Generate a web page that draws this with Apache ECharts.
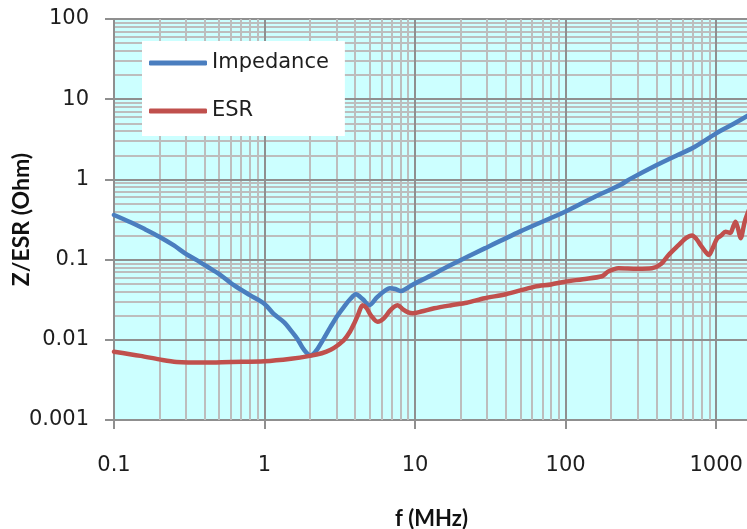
<!DOCTYPE html>
<html>
<head>
<meta charset="utf-8">
<script src="https://cdn.jsdelivr.net/npm/echarts@6/dist/echarts.min.js"></script>
<style>html,body{margin:0;padding:0;background:#fff;}#c{width:747px;height:529px;}</style>
</head>
<body>
<div id="c"></div>
<script>
// Impedance (blue)
const impFreq = [0.1, 0.13, 0.16, 0.2, 0.25, 0.3, 0.35, 0.415, 0.5, 0.625, 0.8, 1.0, 1.15, 1.35, 1.5, 1.65, 1.78, 1.9, 2.0, 2.1, 2.24, 2.5, 2.75, 3.05, 3.38, 3.7, 4.04, 4.5, 4.96, 5.6, 6.2, 6.8, 7.4, 8.07, 9.0, 9.9, 12, 17.4, 29, 50, 99, 160, 230, 265, 400, 550, 692, 1000, 1300, 1652];
const impVal  = [0.36, 0.29, 0.24, 0.193, 0.15, 0.118, 0.1, 0.082, 0.066, 0.048, 0.036, 0.028, 0.021, 0.0165, 0.013, 0.0103, 0.0081, 0.0069, 0.0064, 0.0066, 0.0076, 0.0107, 0.0146, 0.02, 0.026, 0.032, 0.037, 0.032, 0.027, 0.034, 0.04, 0.044, 0.043, 0.0405, 0.045, 0.05, 0.06, 0.086, 0.138, 0.225, 0.395, 0.62, 0.85, 1.0, 1.5, 2.0, 2.44, 3.75, 4.9, 6.35];
// ESR (red)
const esrFreq = [0.1, 0.15, 0.2, 0.26, 0.4, 0.6, 1.0, 1.5, 2.0, 2.4, 2.75, 3.05, 3.38, 3.7, 3.94, 4.2, 4.48, 4.75, 5.1, 5.64, 6.2, 6.8, 7.3, 7.66, 8.3, 9.0, 9.64, 11, 13.4, 17.4, 22, 29, 40, 62.5, 80, 99, 130, 174, 192, 224, 300, 374, 430, 483, 560, 630, 692, 740, 787, 850, 894, 950, 1016, 1080, 1154, 1242, 1290, 1345, 1400, 1453, 1550, 1652];
const esrVal  = [0.0071, 0.0063, 0.0057, 0.0053, 0.0052, 0.0053, 0.0054, 0.0058, 0.0063, 0.0068, 0.0075, 0.0085, 0.010, 0.0127, 0.016, 0.021, 0.027, 0.025, 0.02, 0.0168, 0.0185, 0.023, 0.026, 0.027, 0.024, 0.022, 0.0214, 0.0225, 0.0247, 0.027, 0.029, 0.033, 0.037, 0.046, 0.049, 0.053, 0.057, 0.062, 0.071, 0.078, 0.077, 0.078, 0.088, 0.114, 0.15, 0.185, 0.2, 0.18, 0.152, 0.125, 0.114, 0.14, 0.184, 0.2, 0.223, 0.215, 0.25, 0.297, 0.24, 0.185, 0.3, 0.416];
// Axis ranges and tick labels
const xMin = 0.1, xMax = 1652;
const yMin = 0.001, yMax = 100;
const xTickLabels = ['0.1', '1', '10', '100', '1000'];
const yTickLabels = ['0.001', '0.01', '0.1', '1', '10', '100'];
const xDecades = [0.1, 1, 10, 100, 1000];
const yDecades = [0.001, 0.01, 0.1, 1, 10];
const minorMult = [2, 3, 4, 5, 6, 7, 8, 9];

const pairs = (xs, ys) => xs.map((x, i) => [x, ys[i]]);
function fmt(list) {
  return function (v) {
    const l = Math.log10(v);
    if (Math.abs(l - Math.round(l)) > 1e-6) return '';
    const s = String(+v.toPrecision(3));
    return list.indexOf(s) >= 0 ? s : '';
  };
}
const minorColor = '#bdbdbd', majorColor = '#8f8f8f';
const gridLines = [];
xDecades.forEach(d => minorMult.forEach(m => {
  const v = +(d * m).toPrecision(3);
  if (v < xMax) gridLines.push({ xAxis: v, lineStyle: { color: minorColor, width: 2, type: 'solid' } });
}));
yDecades.forEach(d => minorMult.forEach(m => {
  const v = +(d * m).toPrecision(3);
  gridLines.push({ yAxis: v, lineStyle: { color: minorColor, width: 2, type: 'solid' } });
}));
xDecades.forEach(d => gridLines.push({ xAxis: d, lineStyle: { color: majorColor, width: 2, type: 'solid' } }));
yDecades.forEach(d => gridLines.push({ yAxis: d, lineStyle: { color: majorColor, width: 2, type: 'solid' } }));

const labelFont = { fontFamily: 'DejaVu Sans', fontSize: 21, color: '#1e1e1e' };
const chart = echarts.init(document.getElementById('c'), null, { renderer: 'canvas' });
chart.setOption({
  animation: false,
  backgroundColor: '#ffffff',
  grid: { left: 114, top: 19, right: -2, bottom: 109, containLabel: false, outerBoundsMode: 'none', show: true, backgroundColor: '#ccffff', borderColor: majorColor, borderWidth: 2 },
  legend: {
    data: ['Impedance', 'ESR'],
    orient: 'vertical', left: 142, top: 41, z: 20,
    backgroundColor: '#ffffff', padding: [10, 16, 13, 7],
    itemWidth: 58, itemHeight: 5, itemGap: 24, icon: 'roundRect',
    textStyle: { fontFamily: 'DejaVu Sans', fontSize: 21, color: '#1e1e1e', lineHeight: 24 },
    selectedMode: false
  },
  xAxis: {
    type: 'log', min: xMin, max: xMax, logBase: 10,
    name: 'f (MHz)', nameLocation: 'middle', nameGap: 88, nameMoveOverlap: false,
    nameTextStyle: { fontFamily: 'Lato', fontWeight: 'bold', fontSize: 22, color: '#111' },
    axisLine: { show: true, lineStyle: { color: majorColor, width: 2 } },
    axisTick: { show: true, length: 9, lineStyle: { color: majorColor, width: 2 } },
    axisLabel: Object.assign({ margin: 35, formatter: fmt(xTickLabels), showMaxLabel: false }, labelFont),
    splitLine: { show: false }, minorTick: { show: false }
  },
  yAxis: {
    type: 'log', min: yMin, max: yMax, logBase: 10,
    name: 'Z/ESR (Ohm)', nameLocation: 'middle', nameGap: 81, nameMoveOverlap: false,
    nameTextStyle: { fontFamily: 'Lato', fontWeight: 'bold', fontSize: 23, color: '#111' },
    axisLine: { show: true, lineStyle: { color: majorColor, width: 2 } },
    axisTick: { show: true, length: 9, lineStyle: { color: majorColor, width: 2 } },
    axisLabel: Object.assign({ margin: 25, formatter: fmt(yTickLabels) }, labelFont),
    splitLine: { show: false }
  },
  series: [
    {
      name: 'gridlines', type: 'line', data: [], z: 1, silent: true,
      markLine: { z: 1, silent: true, symbol: 'none', label: { show: false }, emphasis: { disabled: true }, animation: false, data: gridLines }
    },
    {
      name: 'Impedance', type: 'line', z: 3, showSymbol: false, smooth: 0.3,
      data: pairs(impFreq, impVal),
      lineStyle: { color: '#4a7ebf', width: 4.5, cap: 'round', join: 'round' },
      itemStyle: { color: '#4a7ebf' }
    },
    {
      name: 'ESR', type: 'line', z: 3, showSymbol: false, smooth: 0.3,
      data: pairs(esrFreq, esrVal),
      lineStyle: { color: '#c0504d', width: 4.5, cap: 'round', join: 'round' },
      itemStyle: { color: '#c0504d' }
    }
  ]
});
</script>
</body>
</html>
